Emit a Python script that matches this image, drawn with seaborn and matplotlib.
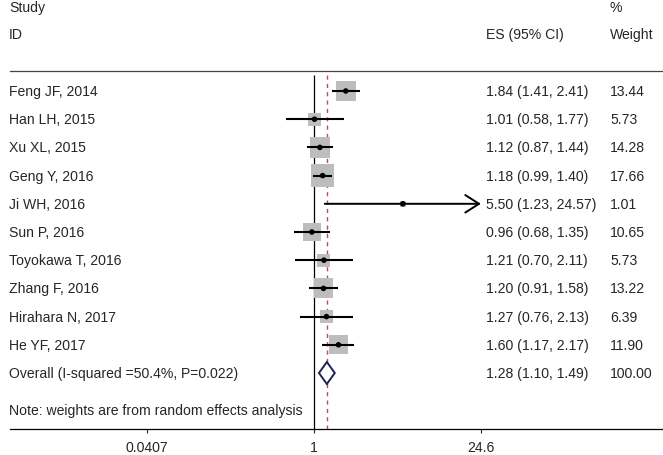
import numpy as np
import pandas as pd
import seaborn as sns
import matplotlib.pyplot as plt
from matplotlib import transforms
from matplotlib.patches import FancyArrowPatch
from matplotlib.ticker import FixedLocator, NullLocator

studies = ['Feng JF, 2014', 'Han LH, 2015', 'Xu XL, 2015', 'Geng Y, 2016', 'Ji WH, 2016',
           'Sun P, 2016', 'Toyokawa T, 2016', 'Zhang F, 2016', 'Hirahara N, 2017', 'He YF, 2017']
es = [1.84, 1.01, 1.12, 1.18, 5.50, 0.96, 1.21, 1.20, 1.27, 1.60]
ci_lo = [1.41, 0.58, 0.87, 0.99, 1.23, 0.68, 0.70, 0.91, 0.76, 1.17]
ci_hi = [2.41, 1.77, 1.44, 1.40, 24.57, 1.35, 2.11, 1.58, 2.13, 2.17]
weights = [13.44, 5.73, 14.28, 17.66, 1.01, 10.65, 5.73, 13.22, 6.39, 11.90]

overall_label = 'Overall (I-squared =50.4%, P=0.022)'
overall_es, overall_lo, overall_hi, overall_w = 1.28, 1.10, 1.49, 100.00
note = 'Note: weights are from random effects analysis'
xticks = [0.0407, 1, 24.6]
xticklabels = ['0.0407', '1', '24.6']

df = pd.DataFrame({'study': studies, 'es': es, 'lo': ci_lo, 'hi': ci_hi, 'w': weights})
df['row'] = np.arange(len(df))
overall_row = len(df)

sns.set_style('white')
plt.rcParams['font.family'] = ['Liberation Sans', 'DejaVu Sans']
FS = 10.1

W, H = 663, 456
fig = plt.figure(figsize=(W / 100, H / 100), dpi=100)
# axes: left 10px, right edge, bottom line at y=430px, header line at y=72px
ax = fig.add_axes([10 / W, (H - 430) / H, 1 - 10 / W, (430 - 72) / H])
ax.set_xscale('log')
ax.set_xlim(10 ** ((10 - 314) / 120), 10 ** ((663 - 314) / 120))
row0, step = 92, 28.2
ax.set_ylim((430 - row0) / step, (72 - row0) / step)

# reference lines
top_row = (76 - row0) / step
bot_row = (430 - row0) / step
ax.vlines(1, top_row, bot_row, color='black', lw=0.9)
ax.vlines(overall_es, top_row, bot_row, color='#B05068', lw=1.0, linestyles=(0, (3, 3)))

# weight boxes
sns.scatterplot(data=df, x='es', y='row', size='w', sizes=(0, 15.4 * 100), size_norm=(0, 100),
                marker='s', color='#BDBDBD', edgecolor='none', legend=False, ax=ax, zorder=2)

# confidence intervals (the CI that runs past the plotted range gets an arrow)
for _, r in df.iterrows():
    if r['hi'] > 20:
        arrow = FancyArrowPatch((r['lo'], r['row']), (r['hi'], r['row']),
                                arrowstyle='->,head_length=0.55,head_width=0.35', mutation_scale=18,
                                lw=1.4, color='black', shrinkA=0, shrinkB=0, zorder=3)
        ax.add_patch(arrow)
    else:
        ax.hlines(r['row'], r['lo'], r['hi'], color='black', lw=1.5, zorder=3)

sns.scatterplot(data=df, x='es', y='row', s=16, color='black', edgecolor='none', ax=ax, zorder=4)

# overall diamond
dh = 0.39
ax.fill([overall_lo, overall_es, overall_hi, overall_es, overall_lo],
        [overall_row, overall_row - dh, overall_row, overall_row + dh, overall_row],
        facecolor='white', edgecolor='#1F2358', lw=1.4, zorder=3)

# text columns
tr = transforms.blended_transform_factory(fig.transFigure, ax.transData)
x_lab, x_es, x_w = 9 / W, 486 / W, 610 / W
for _, r in df.iterrows():
    ax.text(x_lab, r['row'], r['study'], transform=tr, fontsize=FS, va='center', ha='left')
    ax.text(x_es, r['row'], f"{r['es']:.2f} ({r['lo']:.2f}, {r['hi']:.2f})", transform=tr,
            fontsize=FS, va='center', ha='left')
    ax.text(x_w, r['row'], f"{r['w']:.2f}", transform=tr, fontsize=FS, va='center', ha='left')
ax.text(x_lab, overall_row, overall_label, transform=tr, fontsize=FS, va='center', ha='left')
ax.text(x_es, overall_row, f"{overall_es:.2f} ({overall_lo:.2f}, {overall_hi:.2f})", transform=tr,
        fontsize=FS, va='center', ha='left')
ax.text(x_w, overall_row, f"{overall_w:.2f}", transform=tr, fontsize=FS, va='center', ha='left')
ax.text(x_lab, (411 - row0) / step, note, transform=tr, fontsize=FS, va='center', ha='left', clip_on=False)

# header
fig.text(x_lab, 1 - 8 / H, 'Study', fontsize=FS, va='center', ha='left')
fig.text(x_w, 1 - 8 / H, '%', fontsize=FS, va='center', ha='left')
fig.text(x_lab, 1 - 35 / H, 'ID', fontsize=FS, va='center', ha='left')
fig.text(x_es, 1 - 35 / H, 'ES (95% CI)', fontsize=FS, va='center', ha='left')
fig.text(x_w, 1 - 35 / H, 'Weight', fontsize=FS, va='center', ha='left')

# axes styling
for side in ['left', 'right']:
    ax.spines[side].set_visible(False)
ax.spines['bottom'].set_color('black')
ax.spines['bottom'].set_linewidth(0.9)
ax.spines['top'].set_color('#444444')
ax.spines['top'].set_linewidth(0.9)
ax.set_yticks([])
ax.xaxis.set_major_locator(FixedLocator(xticks))
ax.xaxis.set_minor_locator(NullLocator())
ax.set_xticklabels(xticklabels, fontsize=FS)
ax.tick_params(axis='x', direction='out', length=3, width=0.8, pad=5, bottom=True, top=False)
ax.set_xlabel('')
ax.set_ylabel('')

fig.savefig('out.png', dpi=100)
